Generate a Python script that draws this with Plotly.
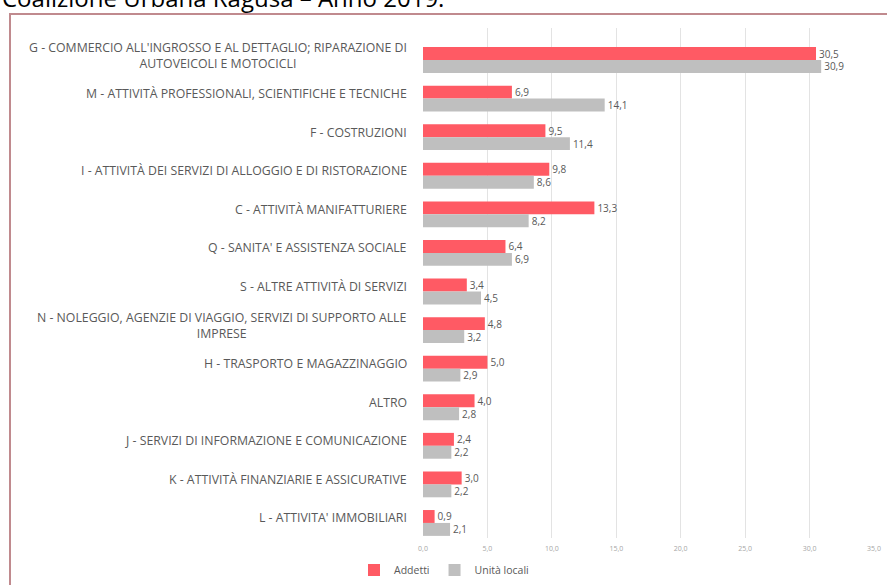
import plotly.graph_objects as go

categories = [
    "G - COMMERCIO ALL'INGROSSO E AL DETTAGLIO; RIPARAZIONE DI<br>AUTOVEICOLI E MOTOCICLI",
    "M - ATTIVITÀ PROFESSIONALI, SCIENTIFICHE E TECNICHE",
    "F - COSTRUZIONI",
    "I - ATTIVITÀ DEI SERVIZI DI ALLOGGIO E DI RISTORAZIONE",
    "C - ATTIVITÀ MANIFATTURIERE",
    "Q - SANITA' E ASSISTENZA SOCIALE",
    "S - ALTRE ATTIVITÀ DI SERVIZI",
    "N - NOLEGGIO, AGENZIE DI VIAGGIO, SERVIZI DI SUPPORTO ALLE<br>IMPRESE",
    "H - TRASPORTO E MAGAZZINAGGIO",
    "ALTRO",
    "J - SERVIZI DI INFORMAZIONE E COMUNICAZIONE",
    "K - ATTIVITÀ FINANZIARIE E ASSICURATIVE",
    "L - ATTIVITA' IMMOBILIARI",
]
addetti = [30.5, 6.9, 9.5, 9.8, 13.3, 6.4, 3.4, 4.8, 5.0, 4.0, 2.4, 3.0, 0.9]
unita_locali = [30.9, 14.1, 11.4, 8.6, 8.2, 6.9, 4.5, 3.2, 2.9, 2.8, 2.2, 2.2, 2.1]
tick_vals = [0, 5, 10, 15, 20, 25, 30, 35]
title_text = "Coalizione Urbana Ragusa – Anno 2019."

W, H = 887, 585
ML, MR, MT, MB = 423, 13, 28, 47
PW, PH = W - ML - MR, H - MT - MB
FONT = "Open Sans"
LABEL_COLOR = "#595959"

idx = list(range(len(categories)))

fig = go.Figure()
fig.add_trace(go.Bar(
    y=idx, x=addetti, orientation="h", name="Addetti",
    marker=dict(color="#FF5A64", line=dict(width=0)),
    text=addetti, texttemplate="%{x:.1f}", textposition="outside",
    textfont=dict(family=FONT, size=10, color=LABEL_COLOR),
    constraintext="none", cliponaxis=False,
))
fig.add_trace(go.Bar(
    y=idx, x=unita_locali, orientation="h", name="Unità locali",
    marker=dict(color="#BFBFBF", line=dict(width=0)),
    text=unita_locali, texttemplate="%{x:.1f}", textposition="outside",
    textfont=dict(family=FONT, size=10, color=LABEL_COLOR),
    constraintext="none", cliponaxis=False,
))

annotations = []
for i, c in enumerate(categories):
    annotations.append(dict(
        x=0, xref="paper", xshift=-14, xanchor="right",
        y=i, yref="y", yanchor="middle", yshift=5,
        text=c, showarrow=False, align="center",
        font=dict(family=FONT, size=12.3, color=LABEL_COLOR),
    ))

annotations.append(dict(
    x=(0 - ML) / PW, xref="paper", xanchor="left",
    y=1 + (MT - 16) / PH, yref="paper", yanchor="bottom",
    text=title_text, showarrow=False,
    font=dict(family=FONT, size=24, color="#000000"),
))

fig.update_layout(
    width=W, height=H,
    margin=dict(l=ML, r=MR, t=MT, b=MB, pad=0, autoexpand=False),
    paper_bgcolor="white", plot_bgcolor="white",
    separators=",.",
    barmode="group", bargap=0.33, bargroupgap=0,
    font=dict(family=FONT, color=LABEL_COLOR),
    xaxis=dict(
        range=[0, 35], tickvals=tick_vals, tickformat=".1f",
        showgrid=True, gridcolor="#E3E3E3", gridwidth=1,
        zeroline=False, showline=False,
        tickfont=dict(family=FONT, size=7, color="#A6A6A6"),
        ticks="", ticklabelstandoff=5,
    ),
    yaxis=dict(
        range=[12.39, -0.83], showticklabels=False,
        showgrid=False, zeroline=False, showline=False, ticks="",
    ),
    showlegend=True,
    legend=dict(
        orientation="h", x=(354 - ML) / PW, xanchor="left",
        y=-(570 - (H - MB)) / PH, yanchor="middle",
        font=dict(family=FONT, size=10.5, color=LABEL_COLOR),
        traceorder="normal", bgcolor="rgba(0,0,0,0)",
    ),
    annotations=annotations,
    shapes=[dict(
        type="rect", xref="paper", yref="paper",
        x0=(10 - ML) / PW, x1=(W + 20 - ML) / PW,
        y0=-(H + 20 - (H - MB)) / PH, y1=1 + (MT - 14) / PH,
        line=dict(color="#C08A8E", width=2), fillcolor="rgba(0,0,0,0)",
        layer="below",
    )],
)

fig.write_html(
    "out.html",
    config={"displayModeBar": False},
    post_script="document.body.style.margin='0';document.body.style.overflow='hidden';",
)
